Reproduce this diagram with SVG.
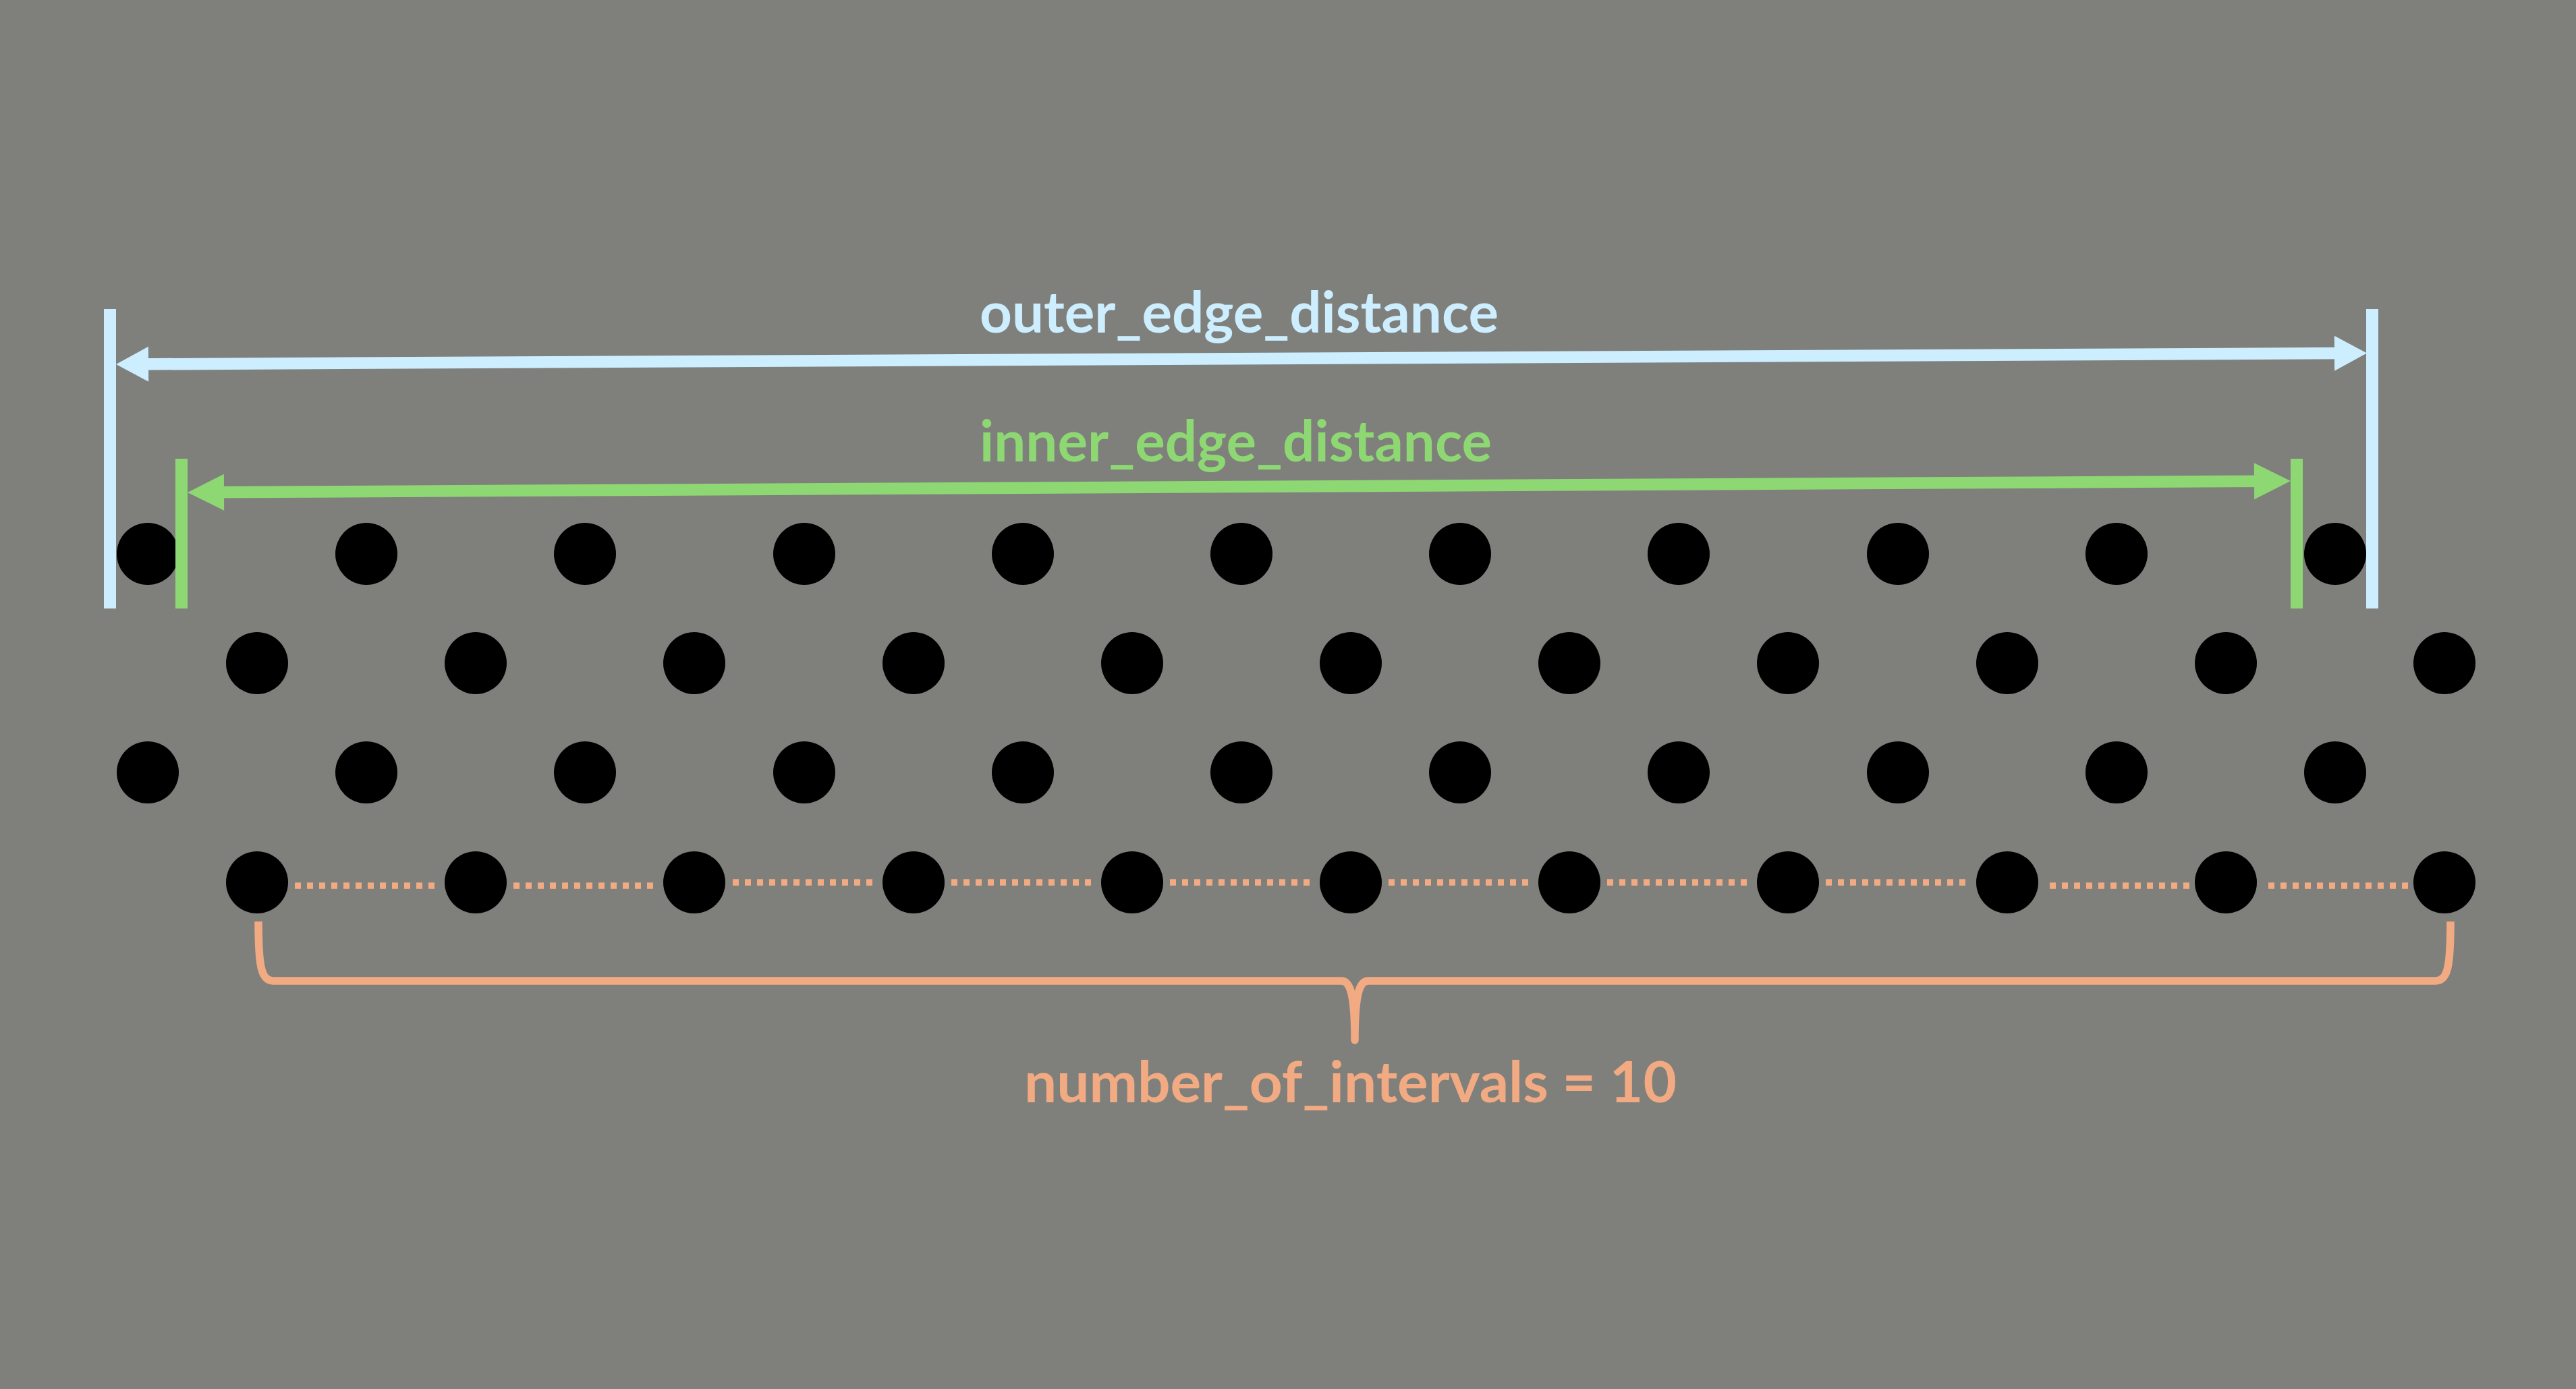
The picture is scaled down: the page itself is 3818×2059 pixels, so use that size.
<svg xmlns="http://www.w3.org/2000/svg" width="3818" height="2059" viewBox="0 0 3818 2059">
<style>
.dot{fill:#000}
.blue{stroke:#cceeff}
.green{stroke:#8ed873}
.bar{stroke-width:18;fill:none}
.dim{stroke-width:17.5;fill:none}
.lbl{font-family:Lato,"Open Sans","Liberation Sans",sans-serif;font-weight:700;font-size:84px}
.dotted{stroke:#f2aa82;stroke-width:9.5;stroke-dasharray:9 9;fill:none}
.brace{stroke:#f2aa82;stroke-width:11.5;fill:none;stroke-linejoin:round}
</style>
<defs>
<marker id="ahBlue" markerUnits="userSpaceOnUse" markerWidth="60" markerHeight="60" viewBox="-2 -30 60 60" refX="20" refY="0" orient="auto-start-reverse">
<path d="M0,-26 L48,0 L0,26 z" fill="#cceeff"/>
</marker>
<marker id="ahGreen" markerUnits="userSpaceOnUse" markerWidth="60" markerHeight="60" viewBox="-2 -30 60 60" refX="26" refY="0" orient="auto-start-reverse">
<path d="M0,-27 L54,0 L0,27 z" fill="#8ed873"/>
</marker>
</defs>
<rect width="3818" height="2059" fill="#7f807c"/>

<g id="dots">
<g id="row1">
<circle class="dot" cx="219" cy="821" r="46"/><circle class="dot" cx="543" cy="821" r="46"/><circle class="dot" cx="867" cy="821" r="46"/><circle class="dot" cx="1192" cy="821" r="46"/><circle class="dot" cx="1516" cy="821" r="46"/><circle class="dot" cx="1840" cy="821" r="46"/><circle class="dot" cx="2164" cy="821" r="46"/><circle class="dot" cx="2488" cy="821" r="46"/><circle class="dot" cx="2813" cy="821" r="46"/><circle class="dot" cx="3137" cy="821" r="46"/><circle class="dot" cx="3461" cy="821" r="46"/>
</g>
<g id="row2">
<circle class="dot" cx="381" cy="983" r="46"/><circle class="dot" cx="705" cy="983" r="46"/><circle class="dot" cx="1029" cy="983" r="46"/><circle class="dot" cx="1354" cy="983" r="46"/><circle class="dot" cx="1678" cy="983" r="46"/><circle class="dot" cx="2002" cy="983" r="46"/><circle class="dot" cx="2326" cy="983" r="46"/><circle class="dot" cx="2650" cy="983" r="46"/><circle class="dot" cx="2975" cy="983" r="46"/><circle class="dot" cx="3299" cy="983" r="46"/><circle class="dot" cx="3623" cy="983" r="46"/>
</g>
<g id="row3">
<circle class="dot" cx="219" cy="1145" r="46"/><circle class="dot" cx="543" cy="1145" r="46"/><circle class="dot" cx="867" cy="1145" r="46"/><circle class="dot" cx="1192" cy="1145" r="46"/><circle class="dot" cx="1516" cy="1145" r="46"/><circle class="dot" cx="1840" cy="1145" r="46"/><circle class="dot" cx="2164" cy="1145" r="46"/><circle class="dot" cx="2488" cy="1145" r="46"/><circle class="dot" cx="2813" cy="1145" r="46"/><circle class="dot" cx="3137" cy="1145" r="46"/><circle class="dot" cx="3461" cy="1145" r="46"/>
</g>
<g id="row4">
<circle class="dot" cx="381" cy="1308" r="46"/><circle class="dot" cx="705" cy="1308" r="46"/><circle class="dot" cx="1029" cy="1308" r="46"/><circle class="dot" cx="1354" cy="1308" r="46"/><circle class="dot" cx="1678" cy="1308" r="46"/><circle class="dot" cx="2002" cy="1308" r="46"/><circle class="dot" cx="2326" cy="1308" r="46"/><circle class="dot" cx="2650" cy="1308" r="46"/><circle class="dot" cx="2975" cy="1308" r="46"/><circle class="dot" cx="3299" cy="1308" r="46"/><circle class="dot" cx="3623" cy="1308" r="46"/>
</g>
</g>

<g id="outer_edge_distance">
<line class="blue bar" x1="163" y1="458" x2="163" y2="902"/>
<line class="blue bar" x1="3516" y1="458" x2="3516" y2="902"/>
<line class="blue dim" x1="200" y1="539.9" x2="3480" y2="523.6" marker-start="url(#ahBlue)" marker-end="url(#ahBlue)"/>
<text class="lbl" x="1452" y="493" fill="#cceeff" textLength="769" lengthAdjust="spacingAndGlyphs">outer_edge_distance</text>
</g>

<g id="inner_edge_distance">
<line class="green bar" x1="269" y1="680" x2="269" y2="902"/>
<line class="green bar" x1="3404" y1="680" x2="3404" y2="902"/>
<line class="green dim" x1="306" y1="729.8" x2="3367" y2="713.2" marker-start="url(#ahGreen)" marker-end="url(#ahGreen)"/>
<text class="lbl" x="1452" y="684" fill="#8ed873" textLength="759" lengthAdjust="spacingAndGlyphs">inner_edge_distance</text>
</g>

<g id="connectors">
<line class="dotted" x1="437" y1="1313" x2="646" y2="1313"/>
<line class="dotted" x1="761" y1="1313" x2="970" y2="1313"/>
<line class="dotted" x1="1086" y1="1308" x2="1295" y2="1308"/>
<line class="dotted" x1="1410" y1="1308" x2="1619" y2="1308"/>
<line class="dotted" x1="1734" y1="1308" x2="1943" y2="1308"/>
<line class="dotted" x1="2058" y1="1308" x2="2267" y2="1308"/>
<line class="dotted" x1="2382" y1="1308" x2="2591" y2="1308"/>
<line class="dotted" x1="2706" y1="1308" x2="2915" y2="1308"/>
<line class="dotted" x1="3038" y1="1313" x2="3247" y2="1313"/>
<line class="dotted" x1="3362" y1="1313" x2="3571" y2="1313"/>
</g>

<g id="number_of_intervals">
<path class="brace" d="M383,1366 C383,1432 387,1454 405,1454 H1988 C2002,1454 2008,1476 2008,1542 C2008,1476 2014,1454 2028,1454 H3610 C3628,1454 3632,1432 3632,1366"/>
<text class="lbl" x="1518" y="1634" fill="#f2aa82" textLength="967" lengthAdjust="spacingAndGlyphs">number_of_intervals = 10</text>
</g>
</svg>
